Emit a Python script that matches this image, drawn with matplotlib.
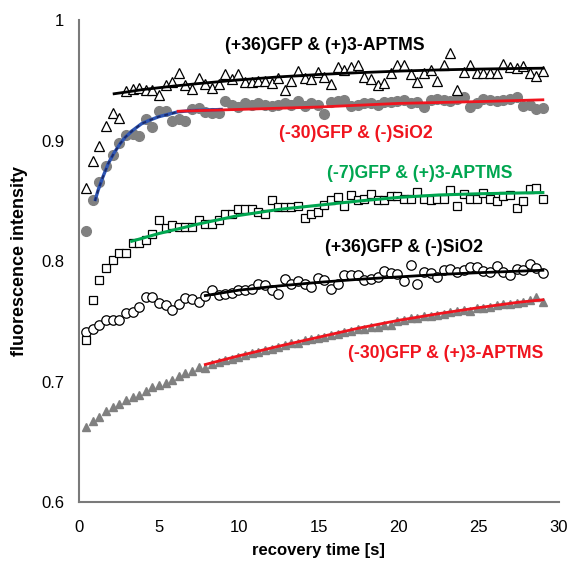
import matplotlib
matplotlib.use("Agg")
import matplotlib.pyplot as plt
from matplotlib.ticker import FixedLocator, FixedFormatter

plt.rcParams['font.family'] = ['Liberation Sans', 'DejaVu Sans']

# sampling times [s]
time_s = [0.45, 0.86, 1.28, 1.69, 2.11, 2.52, 2.93, 3.35, 3.76, 4.18,
          4.59, 5.00, 5.42, 5.83, 6.25, 6.66, 7.07, 7.49, 7.90, 8.32,
          8.73, 9.14, 9.56, 9.97, 10.39, 10.80, 11.21, 11.63, 12.04, 12.46,
          12.87, 13.28, 13.70, 14.11, 14.53, 14.94, 15.35, 15.77, 16.18, 16.60,
          17.01, 17.42, 17.84, 18.25, 18.67, 19.08, 19.49, 19.91, 20.32, 20.74,
          21.15, 21.56, 21.98, 22.39, 22.81, 23.22, 23.63, 24.05, 24.46, 24.88,
          25.29, 25.70, 26.12, 26.53, 26.95, 27.36, 27.77, 28.19, 28.60, 29.02]

# (+36)GFP & (+)3-APTMS  (open triangles)
p36_aptms = [0.861, 0.883, 0.896, 0.912, 0.923, 0.919, 0.941, 0.943, 0.944, 0.942,
             0.942, 0.938, 0.946, 0.949, 0.956, 0.946, 0.943, 0.952, 0.947, 0.944,
             0.947, 0.955, 0.951, 0.955, 0.949, 0.949, 0.950, 0.950, 0.948, 0.952,
             0.9425, 0.950, 0.958, 0.952, 0.9515, 0.957, 0.953, 0.947, 0.961, 0.9585,
             0.961, 0.963, 0.953, 0.951, 0.9466, 0.948, 0.956, 0.963, 0.963, 0.955,
             0.949, 0.956, 0.959, 0.950, 0.963, 0.973, 0.942, 0.957, 0.963, 0.956,
             0.956, 0.956, 0.956, 0.964, 0.961, 0.960, 0.962, 0.956, 0.954, 0.958]

# (-30)GFP & (-)SiO2  (gray filled circles)
m30_sio2 = [0.825, 0.851, 0.866, 0.879, 0.888, 0.898, 0.905, 0.906, 0.904, 0.918,
            0.911, 0.925, 0.925, 0.916, 0.918, 0.9165, 0.926, 0.9275, 0.924, 0.923,
            0.923, 0.933, 0.9295, 0.928, 0.931, 0.930, 0.931, 0.930, 0.929, 0.930,
            0.931, 0.930, 0.933, 0.929, 0.931, 0.930, 0.9225, 0.932, 0.933, 0.934,
            0.929, 0.930, 0.931, 0.931, 0.930, 0.932, 0.932, 0.933, 0.934, 0.931,
            0.932, 0.928, 0.934, 0.935, 0.934, 0.933, 0.935, 0.936, 0.928, 0.931,
            0.935, 0.934, 0.933, 0.934, 0.935, 0.936, 0.929, 0.930, 0.926, 0.927]

# (-7)GFP & (+)3-APTMS  (open squares)
m7_aptms = [0.735, 0.7676, 0.7848, 0.7944, 0.8008, 0.8069, 0.8069, 0.8152, 0.8152, 0.818,
            0.8222, 0.834, 0.8276, 0.8299, 0.828, 0.828, 0.8288, 0.8346, 0.8307, 0.8307,
            0.8346, 0.839, 0.839, 0.8437, 0.8437, 0.8437, 0.841, 0.8396, 0.8506, 0.845,
            0.845, 0.845, 0.8455, 0.836, 0.8396, 0.841, 0.847, 0.8506, 0.8534, 0.8455,
            0.8548, 0.8512, 0.852, 0.8562, 0.8506, 0.8506, 0.854, 0.854, 0.852, 0.8517,
            0.8575, 0.852, 0.8506, 0.852, 0.852, 0.8589, 0.8456, 0.8562, 0.852, 0.8517,
            0.857, 0.852, 0.8498, 0.854, 0.855, 0.8445, 0.8498, 0.8603, 0.8611, 0.852]

# (+36)GFP & (-)SiO2  (open circles)
p36_sio2 = [0.7413, 0.7441, 0.7469, 0.7516, 0.7516, 0.751, 0.7574, 0.758, 0.762, 0.7704,
            0.7704, 0.7654, 0.7635, 0.7599, 0.7649, 0.7696, 0.7685, 0.7662, 0.7712, 0.7759,
            0.7718, 0.7732, 0.7737, 0.7759, 0.7759, 0.7773, 0.7815, 0.7801, 0.7759, 0.7732,
            0.785, 0.7815, 0.7834, 0.7815, 0.7787, 0.7862, 0.7842, 0.7773, 0.7815, 0.7884,
            0.7884, 0.7884, 0.7842, 0.785, 0.787, 0.7917, 0.7903, 0.789, 0.7835, 0.7967,
            0.7815, 0.7911, 0.7906, 0.787, 0.7925, 0.7939, 0.7911, 0.7925, 0.7953, 0.7953,
            0.7917, 0.7911, 0.7961, 0.7911, 0.7884, 0.7939, 0.7925, 0.7981, 0.7945, 0.7906]

# (-30)GFP & (+)3-APTMS  (gray filled triangles)
m30_aptms = [0.6625, 0.6675, 0.6708, 0.6758, 0.6791, 0.6819, 0.6846, 0.6874, 0.6888, 0.6924,
             0.6952, 0.6971, 0.699, 0.7012, 0.7046, 0.7073, 0.709, 0.7123, 0.711, 0.7151,
             0.716, 0.718, 0.719, 0.7205, 0.7225, 0.7235, 0.725, 0.7265, 0.727, 0.7285,
             0.7305, 0.732, 0.7325, 0.7345, 0.7355, 0.7365, 0.737, 0.739, 0.7395, 0.741,
             0.742, 0.7435, 0.744, 0.7455, 0.7455, 0.747, 0.747, 0.7505, 0.751, 0.7525,
             0.753, 0.7545, 0.7545, 0.755, 0.7565, 0.758, 0.7585, 0.7595, 0.759, 0.7615,
             0.7615, 0.762, 0.764, 0.7645, 0.7645, 0.7655, 0.766, 0.7675, 0.770, 0.766]

# fitted curves (x, y)
fit1_x = [2.2, 3, 4, 5, 6, 7.5, 10, 12.5, 15, 17.5, 20, 22.5, 25, 27.5, 29]
fit1_y = [0.939, 0.9405, 0.9425, 0.944, 0.9455, 0.9475, 0.9505, 0.9530, 0.9550, 0.9565, 0.9578, 0.9588, 0.9595, 0.9600, 0.9602]

fit2a_x = [1.0, 1.2, 1.5, 1.83, 2.2, 2.6, 2.9, 3.4, 3.9, 4.4, 5.0, 5.6, 6.2, 7.0, 8.0, 9.0]
fit2a_y = [0.850, 0.859, 0.870, 0.881, 0.890, 0.898, 0.903, 0.909, 0.914, 0.917, 0.920, 0.922, 0.924, 0.925, 0.9255, 0.926]
fit2b_x = [6.2, 10, 15, 20, 25, 29]
fit2b_y = [0.9245, 0.926, 0.928, 0.931, 0.9325, 0.934]

fit3_x = [3.3, 5, 7.5, 10, 12.5, 15, 17.5, 20, 22.5, 25, 29]
fit3_y = [0.8166, 0.823, 0.831, 0.838, 0.843, 0.8465, 0.850, 0.853, 0.855, 0.856, 0.857]

fit4_x = [7.9, 10, 12.5, 15, 17.5, 20, 22.5, 25, 29]
fit4_y = [0.7715, 0.776, 0.7795, 0.7825, 0.785, 0.787, 0.789, 0.7905, 0.7925]

fit5_x = [7.9, 10, 12.5, 15, 17.5, 20, 22.5, 25, 27.5, 29]
fit5_y = [0.7143, 0.7215, 0.7295, 0.737, 0.7445, 0.751, 0.7565, 0.7615, 0.766, 0.768]

x_ticks = [0, 5, 10, 15, 20, 25, 30]
y_ticks = [0.6, 0.7, 0.8, 0.9, 1.0]
y_tick_labels = ['0.6', '0.7', '0.8', '0.9', '1']

labels = ['(+36)GFP & (+)3-APTMS', '(-30)GFP & (-)SiO2', '(-7)GFP & (+)3-APTMS',
          '(+36)GFP & (-)SiO2', '(-30)GFP & (+)3-APTMS']

GRAY = '#808080'
RED = '#f0141e'
GREEN = '#00a650'
BLUE = '#2d55b4'

fig = plt.figure(figsize=(5.72, 5.63), dpi=100)
ax = fig.add_axes([0.138, 0.108, 0.839, 0.856])

# markers
ax.plot(time_s, m30_aptms, linestyle='none', marker='^', ms=6.3, mfc=GRAY, mec=GRAY, zorder=2)
ax.plot(time_s, p36_sio2, linestyle='none', marker='o', ms=6.8, mfc='white', mec='black', mew=0.9, zorder=2)
ax.plot(time_s, m7_aptms, linestyle='none', marker='s', ms=5.2, mfc='white', mec='black', mew=0.9, zorder=2)
ax.plot(time_s, m30_sio2, linestyle='none', marker='o', ms=7.0, mfc=GRAY, mec=GRAY, zorder=2)
ax.plot(time_s, p36_aptms, linestyle='none', marker='^', ms=7.3, mfc='white', mec='black', mew=0.9, zorder=2)

# fit lines
ax.plot(fit1_x, fit1_y, color='black', lw=2.0, zorder=3)
ax.plot(fit2a_x, fit2a_y, color=BLUE, lw=2.4, zorder=3, solid_capstyle='butt')
ax.plot(fit2a_x, fit2a_y, color='#1a2a6a', lw=1.4, ls=(0, (2, 2)), zorder=3)
ax.plot(fit2b_x, fit2b_y, color=RED, lw=2.0, zorder=4)
ax.plot(fit3_x, fit3_y, color=GREEN, lw=2.2, zorder=3)
ax.plot(fit4_x, fit4_y, color='black', lw=2.0, zorder=3)
ax.plot(fit5_x, fit5_y, color=RED, lw=2.0, zorder=3)

# annotations
tkw = dict(fontsize=12.7, fontweight='bold', ha='center', va='center', zorder=5)
ax.text(15.4, 0.979, labels[0], color='black', **tkw)
ax.text(17.3, 0.906, labels[1], color=RED, **tkw)
ax.text(21.3, 0.873, labels[2], color=GREEN, **tkw)
ax.text(20.3, 0.811, labels[3], color='black', **tkw)
ax.text(22.9, 0.7234, labels[4], color=RED, **tkw)

ax.set_xlim(0, 30)
ax.set_ylim(0.6, 1.0)
ax.xaxis.set_major_locator(FixedLocator(x_ticks))
ax.yaxis.set_major_locator(FixedLocator(y_ticks))
ax.yaxis.set_major_formatter(FixedFormatter(y_tick_labels))
ax.tick_params(axis='both', length=0, labelsize=12)
ax.tick_params(axis='x', pad=13)
ax.tick_params(axis='y', pad=10.5)

for s in ['top', 'right']:
    ax.spines[s].set_visible(False)
for s in ['left', 'bottom']:
    ax.spines[s].set_color('#7a7a7a')
    ax.spines[s].set_linewidth(1.5)

ax.set_xlabel('recovery time [s]', fontsize=12, fontweight='bold')
ax.set_ylabel('fluorescence intensity', fontsize=13, fontweight='bold')
ax.xaxis.set_label_coords(0.5, -0.085)
ax.yaxis.set_label_coords(-0.107, 0.5)

fig.savefig('out.png', dpi=100)
